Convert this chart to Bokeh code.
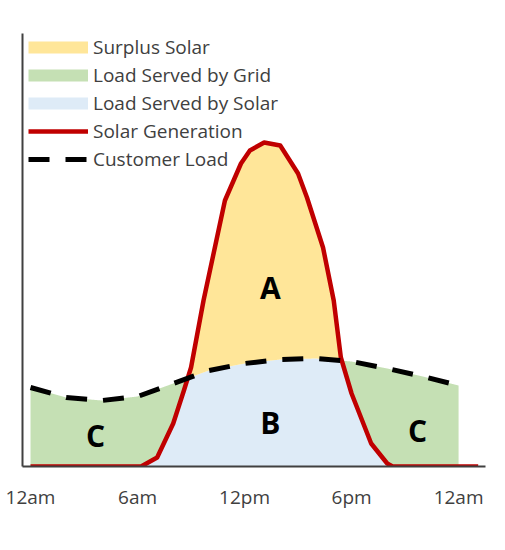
import numpy as np
from bokeh.plotting import figure
from bokeh.models import Range1d, Legend, LegendItem, FixedTicker, ColumnDataSource
from bokeh.core.properties import value
from bokeh.embed import file_html
from bokeh.resources import INLINE

# ---- data (arbitrary power units) ----
solar_hours = [0, 6.2, 7.1, 8.0, 8.6, 9.0, 9.7, 10.9, 11.8, 12.3, 13.1, 14.0, 15.0, 15.5, 16.4, 17.0, 17.4, 18.0, 19.1, 20.0, 20.3, 25.1]
solar_gen = [0, 0, 0.9, 4.3, 7.6, 9.9, 16.6, 26.6, 30.3, 31.6, 32.4, 32.1, 29.3, 26.9, 21.9, 16.6, 10.9, 7.3, 2.3, 0.3, 0, 0]

load_hours = [0, 2, 4, 6, 8, 10, 12, 14, 16, 18, 20, 22, 24]
customer_load = [7.9, 6.9, 6.6, 7.0, 8.3, 9.6, 10.3, 10.7, 10.8, 10.5, 9.8, 9.0, 8.1]

tick_hours = [0, 6, 12, 18, 24]
tick_labels = ["12am", "6am", "12pm", "6pm", "12am"]

region_labels = ["A", "B", "C", "C"]
region_hours = [13.45, 13.45, 3.65, 21.7]
region_levels = [17.9, 4.4, 3.1, 3.6]

# ---- colours ----
C_SURPLUS = "#FFE699"
C_GRID = "#C5E0B4"
C_SOLARLOAD = "#DEEBF7"
C_RED = "#C00000"
C_TEXT = "#404040"

# ---- derived fill boundaries ----
grid = np.linspace(0, 24, 2401)
s = np.interp(grid, solar_hours, solar_gen)
l = np.interp(grid, load_hours, customer_load)
lo = np.minimum(s, l)
hi = np.maximum(s, l)
fill_src = ColumnDataSource(dict(x=grid, zero=np.zeros_like(grid), lo=lo, hi=hi, load=l))

p = figure(width=505, height=550, output_backend="svg", toolbar_location=None,
           x_range=Range1d(-0.45, 25.51), y_range=Range1d(0, 43.3),
           min_border_left=22, min_border_right=20, min_border_top=33, min_border_bottom=84)
p.outline_line_color = None
p.grid.visible = False
p.background_fill_color = "white"

p.varea(x="x", y1="zero", y2="lo", source=fill_src, fill_color=C_SOLARLOAD)
p.varea(x="x", y1="lo", y2="load", source=fill_src, fill_color=C_GRID)
p.varea(x="x", y1="load", y2="hi", source=fill_src, fill_color=C_SURPLUS)

r_solar = p.line(solar_hours, solar_gen, line_color=C_RED, line_width=4.5, line_join="round")
r_load = p.line(load_hours, customer_load, line_color="black", line_width=5, line_dash="21 16")

p.text(x=region_hours, y=region_levels, text=region_labels, text_align="center",
       text_baseline="middle", text_font=value("Open Sans"), text_font_style="bold",
       text_font_size="30px", text_color="black")

# legend swatches (renderers with no visible data, used only for the legend)
d1 = p.line(x=[np.nan], y=[np.nan], line_color=C_SURPLUS, line_width=12, line_cap="butt")
d2 = p.line(x=[np.nan], y=[np.nan], line_color=C_GRID, line_width=12, line_cap="butt")
d3 = p.line(x=[np.nan], y=[np.nan], line_color=C_SOLARLOAD, line_width=12, line_cap="butt")

legend = Legend(items=[
    LegendItem(label="Surplus Solar", renderers=[d1]),
    LegendItem(label="Load Served by Grid", renderers=[d2]),
    LegendItem(label="Load Served by Solar", renderers=[d3]),
    LegendItem(label="Solar Generation", renderers=[r_solar]),
    LegendItem(label="Customer Load", renderers=[r_load]),
], location=(6, 294), glyph_width=60, glyph_height=20, label_height=20,
   label_standoff=5, spacing=2, padding=0, margin=0,
   border_line_color=None, background_fill_alpha=0,
   label_text_font="Open Sans", label_text_font_size="19px", label_text_color=C_TEXT)
p.add_layout(legend)

# axes
p.xaxis.ticker = FixedTicker(ticks=tick_hours)
p.xaxis.major_label_overrides = dict(zip(tick_hours, tick_labels))
p.xaxis.major_tick_line_color = None
p.xaxis.minor_tick_line_color = None
p.xaxis.major_tick_out = 0
p.xaxis.major_label_standoff = 17
p.xaxis.major_label_text_font = "Open Sans"
p.xaxis.major_label_text_font_size = "19px"
p.xaxis.major_label_text_color = C_TEXT
p.xaxis.axis_line_color = C_TEXT
p.xaxis.axis_line_width = 2

p.yaxis.ticker = FixedTicker(ticks=[])
p.yaxis.major_tick_line_color = None
p.yaxis.minor_tick_line_color = None
p.yaxis.major_tick_out = 0
p.yaxis.major_label_standoff = 0
p.yaxis.axis_line_color = C_TEXT
p.yaxis.axis_line_width = 2

open("out.html", "w").write(file_html(p, INLINE))
